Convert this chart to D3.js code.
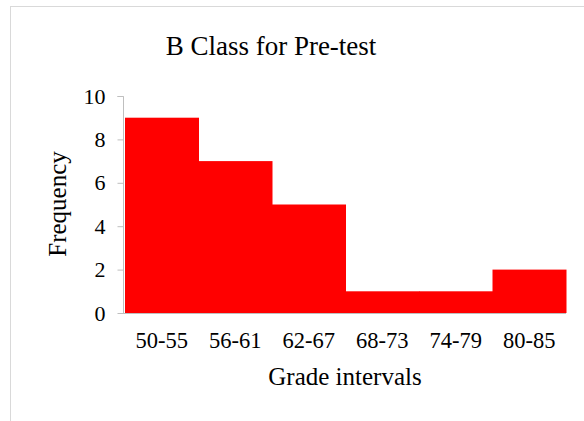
<!DOCTYPE html>
<html>
<head>
<meta charset="utf-8">
<script src="https://cdn.jsdelivr.net/npm/d3@7"></script>
<style>
  body { margin: 0; background: #fff; }
  text { font-family: "Liberation Serif", serif; fill: #000; }
</style>
</head>
<body>
<svg id="chart" width="584" height="421"></svg>
<script>
// data
var intervals = ["50-55", "56-61", "62-67", "68-73", "74-79", "80-85"];
var frequency = [9, 7, 5, 1, 1, 2];
var yTicks = [0, 2, 4, 6, 8, 10];

var svg = d3.select('#chart');

// chart frame (cut off at right and bottom)
svg.append('rect')
    .attr('x', 10.5).attr('y', 6.5)
    .attr('width', 700).attr('height', 600)
    .attr('fill', 'none')
    .attr('stroke', '#d9d9d9');

var x = d3.scaleBand()
    .domain(intervals)
    .range([125, 566])
    .paddingInner(0);

var y = d3.scaleLinear()
    .domain([0, 10])
    .range([313, 96]);

// bars
svg.append('g')
  .selectAll('rect')
  .data(frequency)
  .enter().append('rect')
    .attr('x', function(d, i) { return x(intervals[i]); })
    .attr('y', function(d) { return y(d); })
    .attr('width', x.bandwidth() + 0.5)
    .attr('height', function(d) { return y(0) - y(d); })
    .attr('fill', '#ff0000');

// y axis
var yAxis = svg.append('g')
    .attr('transform', 'translate(123.5,0)')
    .call(d3.axisLeft(y).tickValues(yTicks).tickSize(6).tickPadding(12));
yAxis.select('.domain').attr('stroke', '#bfbfbf').attr('d', 'M-6,96.5H0V313.5');
yAxis.selectAll('.tick line').attr('stroke', '#bfbfbf');
yAxis.selectAll('.tick text')
    .style('font-size', '22px')
    .style('font-family', '"Liberation Serif", serif');

// x axis line
svg.append('line')
    .attr('x1', 118).attr('x2', 566)
    .attr('y1', 313.5).attr('y2', 313.5)
    .attr('stroke', '#bfbfbf');

// x tick labels
svg.append('g')
  .selectAll('text')
  .data(intervals)
  .enter().append('text')
    .attr('x', function(d) { return x(d) + x.bandwidth() / 2; })
    .attr('y', 348)
    .attr('text-anchor', 'middle')
    .style('font-size', '22.5px')
    .text(function(d) { return d; });

// title
svg.append('text')
    .attr('x', 271).attr('y', 55)
    .attr('text-anchor', 'middle')
    .style('font-size', '27px')
    .text('B Class for Pre-test');

// axis titles
svg.append('text')
    .attr('x', 345).attr('y', 385)
    .attr('text-anchor', 'middle')
    .style('font-size', '25px')
    .text('Grade intervals');

svg.append('text')
    .attr('transform', 'translate(66,204) rotate(-90)')
    .attr('text-anchor', 'middle')
    .style('font-size', '25px')
    .text('Frequency');
</script>
</body>
</html>
